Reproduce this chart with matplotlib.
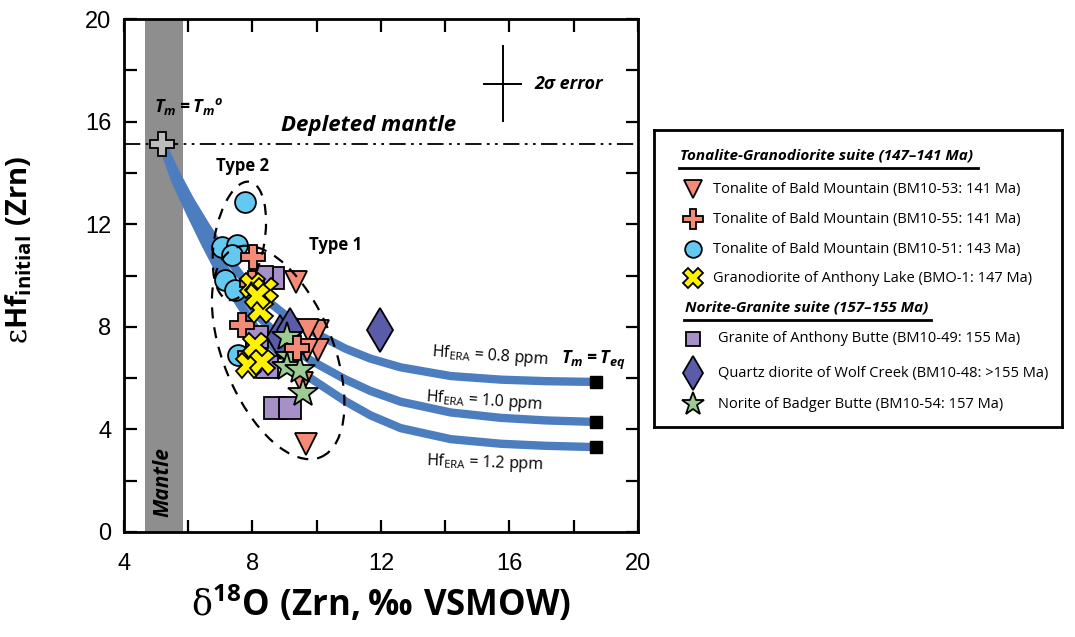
import numpy as np
import matplotlib
matplotlib.use('Agg')
import matplotlib.pyplot as plt
from matplotlib.patches import Ellipse
from matplotlib.transforms import ScaledTranslation

plt.rcParams['font.family'] = ['Open Sans', 'DejaVu Sans']
plt.rcParams['mathtext.fontset'] = 'custom'
plt.rcParams['mathtext.rm'] = 'DejaVu Serif'
plt.rcParams['mathtext.sf'] = 'Open Sans'
plt.rcParams['mathtext.bf'] = 'Open Sans:bold'
plt.rcParams['mathtext.bfit'] = 'Open Sans:italic:bold'

# ── data ─────────────────────────────────────────────────────────────────
# BM10-53 tonalite (triangles)
tri_x = [9.36, 10.05, 9.74, 10.05, 9.71, 9.55, 9.68]
tri_y = [9.75, 7.84, 7.88, 7.10, 7.10, 5.81, 3.43]
# BM10-51 tonalite (circles)
cir_x = [7.77, 7.06, 7.52, 7.37, 7.15, 7.46, 7.56]
cir_y = [12.87, 11.11, 11.19, 10.80, 9.82, 9.43, 6.90]
# BM10-49 granite (squares)
sq_x = [8.65, 8.15, 8.46, 8.71, 9.18, 8.30]
sq_y = [9.90, 7.60, 6.43, 4.83, 4.83, 9.95]
# BM10-48 quartz diorite (diamonds)
dia_x = [11.98, 8.87, 9.18]
dia_y = [7.88, 7.60, 7.88]
# BM10-54 norite (stars)
star_x = [9.18, 9.08, 9.49, 9.58, 9.08]
star_y = [6.82, 6.43, 6.32, 5.42, 7.60]
# BM10-55 tonalite (crosses)
plus_x = [8.02, 7.99, 7.68, 9.40, 7.93]
plus_y = [10.72, 9.70, 8.07, 7.17, 6.90]
# BMO-1 granodiorite (x)
x_x = [8.00, 8.40, 8.24, 8.09, 7.87, 8.30, 8.15]
x_y = [9.63, 9.43, 8.65, 7.29, 6.51, 6.63, 9.20]

# mixing curves, mantle -> crust end member
mix_x = [5.19, 5.59, 6.06, 6.53, 7.00, 7.62, 8.24, 9.02, 9.80, 10.89, 11.67,
         12.61, 14.17, 15.73, 17.13, 18.69]
mix_08 = [15.13, 14.04, 12.94, 11.97, 11.07, 10.02, 9.24, 8.46, 7.85, 7.15, 6.76,
          6.42, 6.08, 5.94, 5.88, 5.85]
mix_10 = [15.13, 13.88, 12.67, 11.54, 10.53, 9.36, 8.34, 7.41, 6.70, 5.95, 5.50,
          5.08, 4.66, 4.45, 4.35, 4.29]
mix_12 = [15.13, 13.72, 12.44, 11.23, 10.10, 8.85, 7.68, 6.78, 6.00, 5.10, 4.55,
          4.05, 3.62, 3.44, 3.36, 3.31]

dm_x, dm_y = 5.19, 15.13          # depleted mantle start point
mantle_lo, mantle_hi = 4.66, 5.84  # mantle d18O range
err_x, err_y, err_dx, err_dy = 15.79, 17.47, 0.6, 1.5

C_SALMON = '#F38B78'
C_BLUE = '#63C9F0'
C_YELLOW = '#FFF200'
C_LAV = '#A590C8'
C_DIA = '#5A5CAA'
C_STAR = '#9CCB94'
C_CURVE = '#4B7DBF'

fig = plt.figure(figsize=(10.75, 6.37), dpi=100)
ax = fig.add_axes([124/1075, 105/637, 514/1075, 513/637])
ax.set_xlim(4, 20)
ax.set_ylim(0, 20)

ax.axvspan(mantle_lo, mantle_hi, color='#8E8E8E', lw=0, zorder=1)
ax.axhline(dm_y, color='black', lw=1.3, dashes=(9, 3, 1.5, 3, 1.5, 3), zorder=2)

for yy in (mix_08, mix_10, mix_12):
    ax.plot(mix_x, yy, color=C_CURVE, lw=6, solid_capstyle='butt',
            solid_joinstyle='round', zorder=3)
ax.plot([mix_x[-1]] * 3, [mix_08[-1], mix_10[-1], mix_12[-1]], 's',
        color='black', ms=9, zorder=4)
ax.plot(dm_x, dm_y, 'P', ms=17, mfc='#BDBDBD', mec='black', mew=1.3, zorder=8)

# outlines of Type 1 / Type 2 groups (sizes in inches)
def group_outline(cx, cy, w, h, ang):
    tr = fig.dpi_scale_trans + ScaledTranslation(cx, cy, ax.transData)
    ax.add_patch(Ellipse((0, 0), w, h, angle=ang, transform=tr, fill=False,
                         ec='black', lw=1.6, ls=(0, (5, 4)), zorder=9))

group_outline(8.80, 7.00, 1.10, 2.26, 22)
group_outline(7.59, 11.35, 0.50, 1.20, -10)

kw = dict(ls='none', mec='black', mew=1.3, zorder=5)
ax.plot(tri_x, tri_y, 'v', ms=16, mfc=C_SALMON, **kw)
ax.plot(cir_x, cir_y, 'o', ms=15, mfc=C_BLUE, **kw)
ax.plot(sq_x, sq_y, 's', ms=16, mfc=C_LAV, **kw)
ax.plot(dia_x, dia_y, 'd', ms=22, mfc=C_DIA, **kw)
ax.plot(star_x, star_y, '*', ms=22, mfc=C_STAR, **kw)
ax.plot(plus_x, plus_y, 'P', ms=17, mfc=C_SALMON, **kw)
ax.plot(x_x, x_y, 'X', ms=18, mfc=C_YELLOW, **kw)

ax.errorbar(err_x, err_y, xerr=err_dx, yerr=err_dy, color='black', lw=1.4,
            capsize=0, zorder=6)
ax.text(err_x + 1.0, err_y, '2σ error', fontsize=13, fontweight='bold',
        style='italic', va='center', ha='left')
ax.text(11.6, 15.85, 'Depleted mantle', fontsize=16, fontweight='bold',
        style='italic', ha='center', va='center')
ax.text(6.0, 16.6, r'$\mathbfit{T_m = T_m{}^o}$', fontsize=13, ha='center', va='center')
ax.text(7.7, 14.25, 'Type 2', fontsize=12, fontweight='bold', ha='center', va='center')
ax.text(10.6, 11.2, 'Type 1', fontsize=12, fontweight='bold', ha='center', va='center')
ax.text(5.22, 1.95, 'Mantle', fontsize=15, fontweight='bold', style='italic',
        rotation=90, ha='center', va='center')
ax.text(18.6, 6.7, r'$\mathbfit{T_m = T_{eq}}$', fontsize=13, ha='center', va='center')
ax.text(15.4, 6.85, r'Hf$_{\mathsf{ERA}}$ = 0.8 ppm', fontsize=11.5, ha='center', va='center', rotation=-4)
ax.text(15.2, 5.12, r'Hf$_{\mathsf{ERA}}$ = 1.0 ppm', fontsize=11.5, ha='center', va='center', rotation=-4)
ax.text(15.25, 2.7, r'Hf$_{\mathsf{ERA}}$ = 1.2 ppm', fontsize=11.5, ha='center', va='center', rotation=-2)

ax.set_xticks([4, 8, 12, 16, 20])
ax.set_xticks([6, 10, 14, 18], minor=True)
ax.set_yticks([0, 4, 8, 12, 16, 20])
ax.set_yticks([2, 6, 10, 14, 18], minor=True)
ax.tick_params(which='both', direction='in', length=9, width=1.6,
               top=True, right=True)
ax.tick_params(axis='x', which='major', pad=15)
ax.tick_params(axis='y', which='major', pad=9)
for lab in ax.get_xticklabels() + ax.get_yticklabels():
    lab.set_fontfamily('Liberation Sans')
    lab.set_fontsize(17)
for sp in ax.spines.values():
    sp.set_linewidth(2)

ax.set_xlabel(r'$\mathrm{δ}^{\mathbf{18}}\mathbf{O\ (Zrn,‰\ VSMOW)}$', fontsize=25, labelpad=6)
ax.set_ylabel(r'$\mathrm{ε}\mathbf{Hf}_{\mathbf{initial}}\mathbf{\ (Zrn)}$', fontsize=21)
ax.yaxis.set_label_coords(-0.175, 0.55)

# ── legend box ───────────────────────────────────────────────────────────
lg = fig.add_axes([654/1075, (637-427)/637, 408/1075, 297/637])
lg.set_xlim(0, 408)
lg.set_ylim(297, 0)
lg.set_xticks([]); lg.set_yticks([])
for sp in lg.spines.values():
    sp.set_linewidth(2)

headers = ['Tonalite-Granodiorite suite (147–141 Ma)', 'Norite-Granite suite (157–155 Ma)']
header_y = [26, 178]
header_x = [26, 31]
header_w = [299, 247]
for t, hx, hy, hw in zip(headers, header_x, header_y, header_w):
    lg.text(hx, hy, t, fontsize=11, fontweight='bold', style='italic', va='center')
    lg.plot([hx - 1, hx - 1 + hw], [hy + 12, hy + 12], color='black', lw=2)

labels = ['Tonalite of Bald Mountain (BM10-53: 141 Ma)',
          'Tonalite of Bald Mountain (BM10-55: 141 Ma)',
          'Tonalite of Bald Mountain (BM10-51: 143 Ma)',
          'Granodiorite of Anthony Lake (BMO-1: 147 Ma)',
          'Granite of Anthony Butte (BM10-49: 155 Ma)',
          'Quartz diorite of Wolf Creek (BM10-48: >155 Ma)',
          'Norite of Badger Butte (BM10-54: 157 Ma)']
markers = ['v', 'P', 'o', 'X', 's', 'd', '*']
colors = [C_SALMON, C_SALMON, C_BLUE, C_YELLOW, C_LAV, C_DIA, C_STAR]
sizes = [13, 14, 12, 14, 10, 17, 17]
row_y = [59, 89, 119, 148, 209, 243, 274]
text_x = [59, 59, 59, 59, 64, 64, 64]
for lab, m, c, s, yy, tx in zip(labels, markers, colors, sizes, row_y, text_x):
    lg.plot(39, yy, m, ms=s, mfc=c, mec='black', mew=1.3)
    lg.text(tx, yy, lab, fontsize=10.5, va='center')

fig.savefig('out.png', dpi=100)
